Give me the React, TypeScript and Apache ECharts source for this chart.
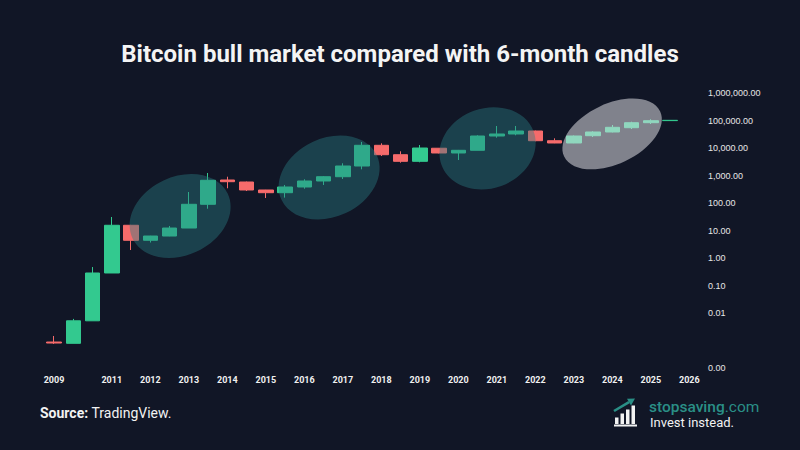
import React, { useEffect, useRef } from "react";
import * as echarts from "echarts";

// ---- data ----
const periods = [
  "2009 H2", "2010 H1", "2010 H2", "2011 H1", "2011 H2", "2012 H1", "2012 H2", "2013 H1", "2013 H2",
  "2014 H1", "2014 H2", "2015 H1", "2015 H2", "2016 H1", "2016 H2", "2017 H1", "2017 H2",
  "2018 H1", "2018 H2", "2019 H1", "2019 H2", "2020 H1", "2020 H2", "2021 H1", "2021 H2",
  "2022 H1", "2022 H2", "2023 H1", "2023 H2", "2024 H1", "2024 H2", "2025 H1", "2025 H2", "2026 H1",
];

const xTickLabels = [
  "2009", "", "", "2011", "", "2012", "", "2013", "", "2014", "", "2015", "", "2016", "", "2017", "",
  "2018", "", "2019", "", "2020", "", "2021", "", "2022", "", "2023", "", "2024", "", "2025", "", "2026",
];

// [open, close, low, high]
const candles: (number[] | string)[] = [
  [0.00088, 0.00081, 0.00075, 0.00146],
  [0.00079, 0.0052, 0.00079, 0.0061],
  [0.0052, 0.285, 0.0052, 0.47],
  [0.285, 15.5, 0.285, 31],
  [15.5, 4.4, 1.95, 16],
  [4.4, 6.3, 3.66, 6.4],
  [6.3, 12.3, 6.2, 14.6],
  [12.3, 89.7, 12.3, 251],
  [89.7, 669, 62, 1232],
  [686, 595, 343, 904],
  [580, 297, 273, 600],
  [297, 237, 152, 300],
  [237, 382, 157, 452],
  [382, 631, 331, 728],
  [631, 904, 452, 950],
  [904, 2215, 746, 2780],
  [2215, 12530, 1680, 16520],
  [12530, 5700, 5120, 14800],
  [5700, 3280, 2920, 7590],
  [3280, 10000, 3020, 12850],
  [9800, 6580, 6400, 10000],
  [6580, 8240, 3660, 8500],
  [8240, 27300, 8240, 29000],
  [27300, 32300, 23700, 63100],
  [32300, 41500, 29000, 63100],
  [41500, 18400, 17600, 43000],
  [18400, 15200, 15000, 22500],
  [15200, 27300, 15000, 28500],
  [28000, 38200, 25100, 40600],
  [38200, 56600, 37000, 68600],
  [54700, 83200, 49000, 90400],
  [83200, 98400, 74600, 110600],
  [99000, 101500, 98000, 102000],
  "-",
];

// highlighted bull-market zones: centre (category position, price)
const zoneCenterIndex = [6.55, 14.29, 22.52, 28.99];
const zoneCenterValue = [33.7, 846, 9750, 32300];
const zoneKinds = ["past", "past", "past", "current"];

const yTickExponents = [-4, -3, -2, -1, 0, 1, 2, 3, 4, 5, 6];

// ---- styles ----
const BG = "#111626";
const UP = "#33c98f";
const DOWN = "#f66b6b";
const zoneStyles: Record<string, any> = {
  past: { rx: 52.6, ry: 39.3, rot: 25, fill: "rgba(42,127,130,0.42)" },
  current: { rx: 53, ry: 30.2, rot: 25, fill: "rgba(226,226,233,0.53)" },
};
const zoneSizeOverride: Record<number, any> = { 2: { rx: 49, ry: 40, rot: 20 } };

function formatTick(v: number) {
  const e = Math.round(Math.log10(v));
  if (e === -3) return "";
  return Math.pow(10, e).toLocaleString("en-US", {
    minimumFractionDigits: 2,
    maximumFractionDigits: 2,
  });
}

export default function App() {
  const ref = useRef<HTMLDivElement>(null);

  useEffect(() => {
    const el = ref.current!;
    const chart = echarts.init(el, null, { renderer: "svg" });
    const option: any = {
      animation: false,
      backgroundColor: BG,
      title: {
        text: "Bitcoin bull market compared with 6-month candles",
        left: "center",
        top: 37,
        textStyle: {
          color: "#f4f4f4",
          fontFamily: "Roboto",
          fontWeight: 700,
          fontSize: 24,
        },
      },
      grid: {
        left: 44.4,
        right: 101,
        top: 93,
        bottom: 82,
        containLabel: false,
        outerBoundsMode: "none",
      },
      xAxis: {
        type: "category",
        data: periods,
        boundaryGap: true,
        axisLine: { show: false },
        axisTick: { show: false },
        splitLine: { show: false },
        axisLabel: {
          interval: 0,
          margin: 7,
          color: "#f0f0f0",
          fontFamily: "Roboto",
          fontWeight: 700,
          fontSize: 9,
          formatter: (_v: string, i: number) => xTickLabels[i],
        },
      },
      yAxis: {
        type: "log",
        logBase: 10,
        min: Math.pow(10, yTickExponents[0]),
        max: Math.pow(10, yTickExponents[yTickExponents.length - 1]),
        interval: 1,
        position: "right",
        axisLine: { show: false },
        axisTick: { show: false },
        splitLine: { show: false },
        axisLabel: {
          margin: 9,
          color: "#e6e6e6",
          fontFamily: "Liberation Sans",
          fontSize: 9,
          formatter: (v: number) => formatTick(v),
        },
      },
      series: [
        {
          type: "candlestick",
          data: candles,
          barWidth: 15,
          itemStyle: {
            color: UP,
            color0: DOWN,
            borderColor: UP,
            borderColor0: DOWN,
            borderWidth: 1,
          },
        },
      ],
    };
    chart.setOption(option);

    const xPix = (f: number) => {
      const i0 = Math.floor(f);
      const i1 = Math.ceil(f);
      const p0 = chart.convertToPixel({ xAxisIndex: 0 } as any, i0) as number;
      const p1 = chart.convertToPixel({ xAxisIndex: 0 } as any, i1) as number;
      return i1 === i0 ? p0 : p0 + (p1 - p0) * (f - i0);
    };
    const yPix = (v: number) => chart.convertToPixel({ yAxisIndex: 0 } as any, v) as number;

    const zones = zoneCenterIndex.map((ci, k) => {
      const st = { ...zoneStyles[zoneKinds[k]], ...(zoneSizeOverride[k] || {}) };
      return {
        type: "ellipse",
        x: xPix(ci),
        y: yPix(zoneCenterValue[k]),
        rotation: (st.rot * Math.PI) / 180,
        shape: { cx: 0, cy: 0, rx: st.rx, ry: st.ry },
        style: { fill: st.fill },
        z: 100,
        silent: true,
      };
    });

    const teal = "#2a8f86";
    const logo = [
      // bars
      { type: "rect", shape: { x: 615, y: 417.5, width: 3.5, height: 6.5 }, style: { fill: "#f2f2f2" } },
      { type: "rect", shape: { x: 620.5, y: 413.5, width: 3.5, height: 10.5 }, style: { fill: "#f2f2f2" } },
      { type: "rect", shape: { x: 626, y: 409.5, width: 3.5, height: 14.5 }, style: { fill: "#f2f2f2" } },
      { type: "rect", shape: { x: 631.5, y: 405.5, width: 3.5, height: 18.5 }, style: { fill: "#f2f2f2" } },
      { type: "rect", shape: { x: 614, y: 424.5, width: 23, height: 2 }, style: { fill: "#f2f2f2" } },
      // arrow
      { type: "line", shape: { x1: 614, y1: 411, x2: 629, y2: 402.2 }, style: { stroke: teal, lineWidth: 2.6 } },
      { type: "polygon", shape: { points: [[635, 398.5], [627, 398.8], [631, 405.5]] }, style: { fill: teal } },
    ];

    const texts = [
      {
        type: "text",
        x: 40,
        y: 413,
        style: {
          text: "{b|Source:} {r|TradingView.}",
          verticalAlign: "middle",
          rich: {
            b: { fontFamily: "Roboto", fontWeight: 700, fontSize: 14, lineHeight: 16, fill: "#f2f2f2" },
            r: { fontFamily: "Roboto", fontWeight: 400, fontSize: 14, lineHeight: 16, fill: "#f2f2f2" },
          },
        },
      },
      {
        type: "text",
        x: 649,
        y: 406.5,
        style: {
          text: "{b|stopsaving}{r|.com}",
          verticalAlign: "middle",
          rich: {
            b: { fontFamily: "Roboto", fontWeight: 500, fontSize: 15.5, lineHeight: 14, fill: teal },
            r: { fontFamily: "Roboto", fontWeight: 400, fontSize: 15.5, lineHeight: 14, fill: teal },
          },
        },
      },
      {
        type: "text",
        x: 650,
        y: 422,
        style: {
          text: "Invest instead.",
          verticalAlign: "middle",
          fontFamily: "Roboto",
          fontSize: 13,
          lineHeight: 13,
          fill: "#f2f2f2",
        },
      },
    ];

    chart.setOption({ graphic: [...zones, ...logo, ...texts] });

    return () => {
      chart.dispose();
    };
  }, []);

  return (
    <div
      ref={ref}
      style={{ position: "absolute", left: 0, top: 0, width: 800, height: 450 }}
    />
  );
}
